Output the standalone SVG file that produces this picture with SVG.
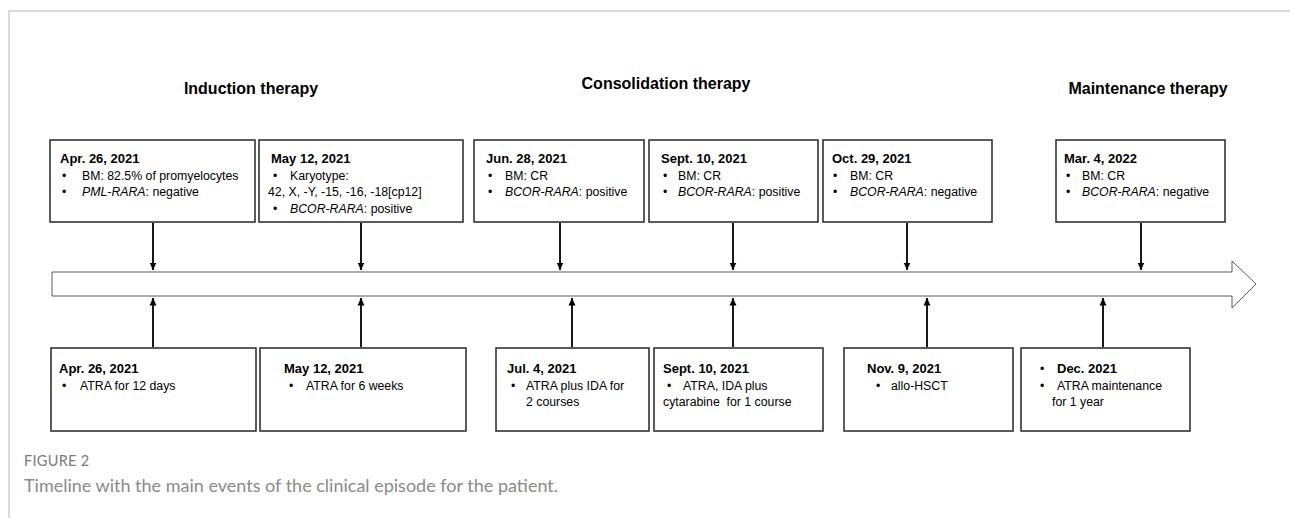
<svg xmlns="http://www.w3.org/2000/svg" width="1290" height="518" viewBox="0 0 1290 518">
<style>
.box{fill:#fff;stroke:#333;stroke-width:1.6}
.t{font-family:"Liberation Sans",Arial,sans-serif;font-size:12.3px;fill:#000}
.d{font-family:"Liberation Sans",Arial,sans-serif;font-size:13px;font-weight:bold;fill:#000}
.h{font-family:"Liberation Sans",Arial,sans-serif;font-size:16px;font-weight:bold;fill:#000;text-anchor:middle}
.i{font-style:italic}
.c{stroke:#000;stroke-width:1.8;fill:none;marker-end:url(#ah)}
.cap1{font-family:Lato,"Open Sans",sans-serif;font-size:14.5px;fill:#7a7a7a;letter-spacing:0.3px}
.cap2{font-family:Lato,"Open Sans",sans-serif;font-size:18px;fill:#8a8a8a}
</style>
<defs>
<marker id="ah" markerWidth="8" markerHeight="8" refX="7.5" refY="4" orient="auto" markerUnits="userSpaceOnUse"><path d="M0,0.5 L7.5,4 L0,7.5 z" fill="#000"/></marker>
</defs>
<path d="M9,518 V11 H1290" fill="none" stroke="#cfcfcf" stroke-width="1.5"/>
<g id="headings">
<text class="h" x="251" y="94">Induction therapy</text>
<text class="h" x="666" y="89">Consolidation therapy</text>
<text class="h" x="1148" y="94">Maintenance therapy</text>
</g>
<g id="timeline">
<polygon points="52,272 1232,272 1232,261 1256,284 1232,308 1232,296 52,296" fill="#fff" stroke="#5a5a5a" stroke-width="1"/>
</g>
<g id="connectors">
<line class="c" x1="153" y1="223" x2="153" y2="270"/>
<line class="c" x1="361" y1="223" x2="361" y2="270"/>
<line class="c" x1="560" y1="223" x2="560" y2="270"/>
<line class="c" x1="733" y1="223" x2="733" y2="270"/>
<line class="c" x1="907" y1="223" x2="907" y2="270"/>
<line class="c" x1="1141" y1="223" x2="1141" y2="270"/>
<line class="c" x1="153" y1="347" x2="153" y2="298"/>
<line class="c" x1="361" y1="347" x2="361" y2="298"/>
<line class="c" x1="572" y1="347" x2="572" y2="298"/>
<line class="c" x1="733" y1="347" x2="733" y2="298"/>
<line class="c" x1="927" y1="347" x2="927" y2="298"/>
<line class="c" x1="1103" y1="347" x2="1103" y2="298"/>
</g>
<g id="top1">
<rect class="box" x="50" y="140" width="205" height="82"/>
<text class="d" x="60" y="163">Apr. 26, 2021</text>
<text class="t" x="62" y="179.5">•</text><text class="t" x="82" y="179.5">BM: 82.5% of promyelocytes</text>
<text class="t" x="62" y="196">•</text><text class="t" x="82" y="196"><tspan class="i">PML-RARA</tspan>: negative</text>
</g>
<g id="top2">
<rect class="box" x="259" y="140" width="204" height="82"/>
<text class="d" x="271" y="163">May 12, 2021</text>
<text class="t" x="273" y="179.5">•</text><text class="t" x="290" y="179.5">Karyotype:</text>
<text class="t" x="268" y="196">42, X, -Y, -15, -16, -18[cp12]</text>
<text class="t" x="273" y="212.5">•</text><text class="t" x="290" y="212.5"><tspan class="i">BCOR-RARA</tspan>: positive</text>
</g>
<g id="top3">
<rect class="box" x="474" y="140" width="170" height="82"/>
<text class="d" x="486" y="163">Jun. 28, 2021</text>
<text class="t" x="488" y="179.5">•</text><text class="t" x="505" y="179.5">BM: CR</text>
<text class="t" x="488" y="196">•</text><text class="t" x="505" y="196"><tspan class="i">BCOR-RARA</tspan>: positive</text>
</g>
<g id="top4">
<rect class="box" x="649" y="140" width="169" height="82"/>
<text class="d" x="661" y="163">Sept. 10, 2021</text>
<text class="t" x="663" y="179.5">•</text><text class="t" x="678" y="179.5">BM: CR</text>
<text class="t" x="663" y="196">•</text><text class="t" x="678" y="196"><tspan class="i">BCOR-RARA</tspan>: positive</text>
</g>
<g id="top5">
<rect class="box" x="823" y="140" width="169" height="82"/>
<text class="d" x="832" y="163">Oct. 29, 2021</text>
<text class="t" x="833" y="179.5">•</text><text class="t" x="850" y="179.5">BM: CR</text>
<text class="t" x="833" y="196">•</text><text class="t" x="850" y="196"><tspan class="i">BCOR-RARA</tspan>: negative</text>
</g>
<g id="top6">
<rect class="box" x="1056" y="140" width="169" height="82"/>
<text class="d" x="1064" y="163">Mar. 4, 2022</text>
<text class="t" x="1066" y="179.5">•</text><text class="t" x="1082" y="179.5">BM: CR</text>
<text class="t" x="1066" y="196">•</text><text class="t" x="1082" y="196"><tspan class="i">BCOR-RARA</tspan>: negative</text>
</g>
<g id="bot1">
<rect class="box" x="51" y="348" width="205" height="83"/>
<text class="d" x="59" y="373">Apr. 26, 2021</text>
<text class="t" x="62" y="389.5">•</text><text class="t" x="80" y="389.5">ATRA for 12 days</text>
</g>
<g id="bot2">
<rect class="box" x="260" y="348" width="206" height="83"/>
<text class="d" x="284" y="373">May 12, 2021</text>
<text class="t" x="289" y="389.5">•</text><text class="t" x="306" y="389.5">ATRA for 6 weeks</text>
</g>
<g id="bot3">
<rect class="box" x="496" y="348" width="153" height="83"/>
<text class="d" x="507" y="373">Jul. 4, 2021</text>
<text class="t" x="511" y="389.5">•</text><text class="t" x="526" y="389.5">ATRA plus IDA for</text>
<text class="t" x="526" y="406">2 courses</text>
</g>
<g id="bot4">
<rect class="box" x="654" y="348" width="169" height="83"/>
<text class="d" x="663" y="373">Sept. 10, 2021</text>
<text class="t" x="667" y="389.5">•</text><text class="t" x="683" y="389.5">ATRA, IDA plus</text>
<text class="t" x="663" y="406" xml:space="preserve" style="white-space:pre">cytarabine  for 1 course</text>
</g>
<g id="bot5">
<rect class="box" x="844" y="348" width="169" height="83"/>
<text class="d" x="867" y="373">Nov. 9, 2021</text>
<text class="t" x="876" y="389.5">•</text><text class="t" x="891" y="389.5">allo-HSCT</text>
</g>
<g id="bot6">
<rect class="box" x="1021" y="348" width="169" height="83"/>
<text class="t" x="1040" y="373">•</text><text class="d" x="1057" y="373">Dec. 2021</text>
<text class="t" x="1040" y="389.5">•</text><text class="t" x="1057" y="389.5">ATRA maintenance</text>
<text class="t" x="1052" y="406">for 1 year</text>
</g>
<g id="caption">
<text class="cap1" x="24" y="466">FIGURE 2</text>
<text class="cap2" x="24" y="492">Timeline with the main events of the clinical episode for the patient.</text>
</g>
</svg>
